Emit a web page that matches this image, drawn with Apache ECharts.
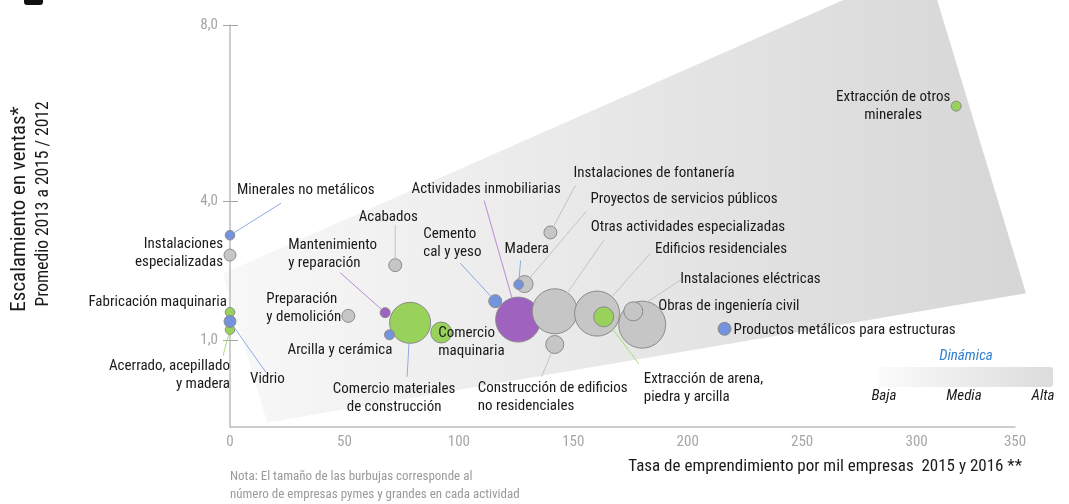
<!DOCTYPE html>
<html><head><meta charset="utf-8">
<script src="https://cdn.jsdelivr.net/npm/echarts@6/dist/echarts.min.js"></script>
<style>html,body{margin:0;padding:0;background:#fff}#c{width:1069px;height:504px}</style>
</head><body><div id="c"></div>
<script>
// ---------- DATA ----------
const actividades = [
  'Minerales no metálicos', 'Instalaciones\nespecializadas', 'Fabricación maquinaria',
  'Acerrado, acepillado\ny madera', 'Vidrio', 'Preparación\ny demolición',
  'Comercio materiales\nde construcción', 'Mantenimiento\ny reparación', 'Arcilla y cerámica',
  'Comercio\nmaquinaria', 'Acabados', 'Cemento\ncal y yeso', 'Actividades inmobiliarias',
  'Proyectos de servicios públicos', 'Madera', 'Instalaciones de fontanería',
  'Otras actividades especializadas', 'Construcción de edificios\nno residenciales',
  'Edificios residenciales', 'Extracción de arena,\npiedra y arcilla',
  'Obras de ingeniería civil', 'Instalaciones eléctricas',
  'Productos metálicos para estructuras', 'Extracción de otros\nminerales'
];
// Tasa de emprendimiento por mil empresas 2015 y 2016
const tasaEmprendimiento = [0, 0, 0, 0, 0, 51.7, 78.7, 67.8, 69.7, 92.3, 72.2, 115.9, 125.9,
  128.7, 126.1, 140.0, 141.9, 141.9, 160.4, 163.3, 180.1, 176.2, 216.1, 317.3];
// Escalamiento en ventas, promedio 2013 a 2015 / 2012
const escalamientoVentas = [3.27, 2.84, 1.60, 1.22, 1.40, 1.52, 1.37, 1.59, 1.11, 1.16, 2.62,
  1.84, 1.44, 2.21, 2.20, 3.33, 1.62, 0.90, 1.57, 1.50, 1.33, 1.62, 1.24, 6.07];
// Tamaño relativo (número de empresas pymes y grandes)
const tamanoBurbuja = [23, 36, 23, 23, 36, 42, 420, 25, 25, 110, 42, 42, 506, 72, 23, 42, 506,
  81, 506, 100, 552, 90, 42, 25];
const grupo = ['azul', 'gris', 'verde', 'verde', 'azul', 'gris', 'verde', 'morado', 'azul',
  'verde', 'gris', 'azul', 'morado', 'gris', 'azul', 'gris', 'gris', 'gris', 'gris', 'verde',
  'gris', 'gris', 'azul', 'verde'];
const xTickValues = [0, 50, 100, 150, 200, 250, 300, 350];
const xTickLabels = ['0', '50', '100', '150', '200', '250', '300', '350'];
const yTickValues = [1, 4, 8];
const yTickLabels = ['1,0', '4,0', '8,0'];
// zona sombreada de dinámica (en unidades de los ejes)
const zonaDinamica = [[-3.1, 2.44], [268, 8.37], [309, 8.37], [347.8, 2.01], [16.2, -0.79]];

// ---------- STYLE / LAYOUT ----------
const X_MAX = 343, Y_MIN = -0.89, Y_MAX = 7.83;
const FONT = "'Liberation Sans Narrow','Arial Narrow','Roboto Condensed',sans-serif";
const colores = { azul: '#7393dc', verde: '#98d25a', morado: '#a062bf', gris: '#c6c6c6' };
const coloresLinea = { azul: '#8fa9e6', verde: '#a9dc7a', morado: '#b98bd6', gris: '#c4c4c4' };
// text anchor offset (px) from bubble centre; optional leader line end offset
const etiquetas = [
  { dx: 7, dy: -45, a: 'left', l: [51, -32], lc: 'azul' },
  { dx: -7, dy: -2, a: 'right' },
  { dx: -3, dy: -10, a: 'right' },
  { dx: 0, dy: 46, a: 'right', l: [-7, 26], lc: 'verde' },
  { dx: 20, dy: 58, a: 'left', l: [36, 51], lc: 'azul' },
  { dx: -82, dy: -8, a: 'left' },
  { dx: -16, dy: 75, a: 'center', l: [-3, 54], lc: 'azul' },
  { dx: -97, dy: -58, a: 'left', l: [-45, -40], lc: 'morado' },
  { dx: -102, dy: 15, a: 'left' },
  { dx: -3, dy: 10, a: 'left' },
  { dx: -7, dy: -48, a: 'center', l: [0, -40], lc: 'gris' },
  { dx: -72, dy: -58, a: 'left', l: [-35, -38], lc: 'azul' },
  { dx: -32, dy: -130, a: 'center', l: [-34, -119], lc: 'morado' },
  { dx: 66, dy: -85, a: 'left', l: [62, -73], lc: 'gris' },
  { dx: -14, dy: -35, a: 'left', l: [2, -24], lc: 'azul' },
  { dx: 23, dy: -59, a: 'left', l: [25, -47], lc: 'gris' },
  { dx: 36, dy: -84, a: 'left', l: [49, -71], lc: 'gris' },
  { dx: -77, dy: 53, a: 'left', l: [-13, 32], lc: 'gris' },
  { dx: 58, dy: -64, a: 'left', l: [53, -60], lc: 'gris' },
  { dx: 40, dy: 71, a: 'left', l: [35, 47], lc: 'verde' },
  { dx: 16, dy: -18, a: 'left' },
  { dx: 47, dy: -32, a: 'left', l: [47, -31], lc: 'gris' },
  { dx: 9, dy: 1, a: 'left' },
  { dx: -63, dy: 0, a: 'center' }
];
const radio = v => Math.sqrt(v);

const chart = echarts.init(document.getElementById('c'), null, { renderer: 'canvas' });

const puntos = actividades.map((n, i) => ({
  value: [tasaEmprendimiento[i], escalamientoVentas[i], tamanoBurbuja[i], i],
  itemStyle: { color: colores[grupo[i]] }
}));

const yLabelPos = yTickValues.map(v => Math.min(v, Y_MAX));
const xLabelPos = xTickValues.map(v => Math.min(v, X_MAX));

const option = {
  animation: false,
  grid: { left: 230, top: 25, width: 785, height: 402, containLabel: false },
  xAxis: {
    type: 'value', min: 0, max: X_MAX,
    axisLine: { show: true, onZero: false, lineStyle: { color: '#bdbdbd', width: 1.5 } },
    axisTick: { show: false },
    splitLine: { show: false },
    axisLabel: {
      customValues: xLabelPos, color: '#a6a6a6', fontSize: 15, fontFamily: FONT, margin: 8,
      formatter: v => xTickLabels[xLabelPos.indexOf(v)]
    }
  },
  yAxis: [{
    type: 'value', min: Y_MIN, max: Y_MAX,
    axisLine: { show: true, onZero: false, lineStyle: { color: '#bdbdbd', width: 1.5 } },
    axisTick: { show: true, customValues: yLabelPos, length: 7, lineStyle: { color: '#a6a6a6' } },
    splitLine: { show: false },
    axisLabel: {
      customValues: yLabelPos, color: '#a6a6a6', fontSize: 15, fontFamily: FONT, margin: 12,
      formatter: v => yTickLabels[yLabelPos.indexOf(v)]
    }
  }, {
    type: 'value', min: Y_MIN, max: Y_MAX, position: 'left',
    axisLine: { show: false, onZero: false },
    axisTick: { show: true, inside: true, customValues: yLabelPos, length: 8, lineStyle: { color: '#a6a6a6' } },
    splitLine: { show: false },
    axisLabel: { show: false }
  }],
  series: [
    {
      type: 'custom', z: -1, silent: true, clip: false,
      data: [[0, 0]],
      renderItem: (params, api) => ({
        type: 'polygon',
        shape: { points: zonaDinamica.map(p => api.coord(p)) },
        style: {
          fill: new echarts.graphic.LinearGradient(223, 0, 1025, 0, [
            { offset: 0, color: '#f8f8f8' }, { offset: 1, color: '#d6d6d6' }
          ], true)
        }
      })
    },
    {
      type: 'scatter', z: 3, silent: true,
      data: puntos,
      symbolSize: v => 2 * radio(v[2]),
      itemStyle: { borderColor: '#8a8a8a', borderWidth: 1, opacity: 1 }
    },
    {
      type: 'custom', z: 4, silent: true, clip: false,
      data: actividades.map((n, i) => [tasaEmprendimiento[i], escalamientoVentas[i], i]),
      renderItem: (params, api) => {
        const i = api.value(2);
        const c = api.coord([api.value(0), api.value(1)]);
        const e = etiquetas[i];
        const children = [];
        if (e.l) {
          const len = Math.hypot(e.l[0], e.l[1]);
          const r = radio(tamanoBurbuja[i]);
          children.push({
            type: 'line',
            shape: { x1: c[0] + e.l[0] / len * r, y1: c[1] + e.l[1] / len * r, x2: c[0] + e.l[0], y2: c[1] + e.l[1] },
            style: { stroke: coloresLinea[e.lc], lineWidth: 1 }
          });
        }
        children.push({
          type: 'text', x: c[0] + e.dx, y: c[1] + e.dy,
          style: {
            text: actividades[i], fill: '#1a1a1a', fontSize: 15, fontFamily: FONT,
            align: e.a, verticalAlign: 'middle', lineHeight: 18
          }
        });
        return { type: 'group', children };
      }
    }
  ],
  graphic: [
    { type: 'rect', left: 24, top: -6, shape: { width: 19, height: 11, r: 3 }, style: { fill: '#111' } },
    { type: 'text', x: 20, y: 209, rotation: Math.PI / 2,
      style: { text: 'Escalamiento en ventas*', fill: '#1a1a1a', fontSize: 21, fontFamily: FONT, align: 'center', verticalAlign: 'middle' } },
    { type: 'text', x: 44, y: 204, rotation: Math.PI / 2,
      style: { text: 'Promedio 2013 a 2015 / 2012', fill: '#1a1a1a', fontSize: 17.5, fontFamily: FONT, align: 'center', verticalAlign: 'middle' } },
    { type: 'text', x: 1022, y: 467,
      style: { text: 'Tasa de emprendimiento por mil empresas  2015 y 2016 **', fill: '#1a1a1a', fontSize: 17, fontFamily: FONT, align: 'right', verticalAlign: 'middle' } },
    { type: 'text', x: 230, y: 486,
      style: { text: 'Nota: El tamaño de las burbujas corresponde al\nnúmero de empresas pymes y grandes en cada actividad', fill: '#9a9a9a', fontSize: 13, fontFamily: FONT, align: 'left', verticalAlign: 'middle', lineHeight: 18 } },
    { type: 'text', x: 966, y: 356,
      style: { text: 'Dinámica', fill: '#2f7fd0', fontSize: 15, fontStyle: 'italic', fontFamily: FONT, align: 'center', verticalAlign: 'middle' } },
    { type: 'rect', shape: { x: 878, y: 367, width: 175, height: 20, r: 3 },
      style: { fill: new echarts.graphic.LinearGradient(0, 0, 1, 0, [{ offset: 0, color: '#fbfbfb' }, { offset: 1, color: '#dcdcdc' }]) } },
    { type: 'text', x: 884, y: 396, style: { text: 'Baja', fill: '#1a1a1a', fontSize: 15, fontStyle: 'italic', fontFamily: FONT, align: 'center', verticalAlign: 'middle' } },
    { type: 'text', x: 964, y: 396, style: { text: 'Media', fill: '#1a1a1a', fontSize: 15, fontStyle: 'italic', fontFamily: FONT, align: 'center', verticalAlign: 'middle' } },
    { type: 'text', x: 1043, y: 396, style: { text: 'Alta', fill: '#1a1a1a', fontSize: 15, fontStyle: 'italic', fontFamily: FONT, align: 'center', verticalAlign: 'middle' } }
  ]
};
chart.setOption(option);
</script></body></html>
